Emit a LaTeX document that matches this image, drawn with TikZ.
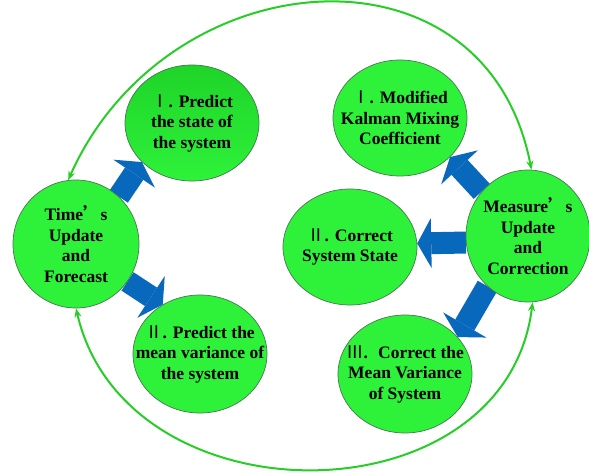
\documentclass[tikz,border=0pt]{standalone}
\usepackage{fontspec}
\setmainfont{Liberation Serif}
\newfontfamily\cjk{Noto Sans CJK SC}
\usetikzlibrary{shapes.geometric,arrows.meta,backgrounds}

\definecolor{cycgreen}{RGB}{40,205,40}
\definecolor{ballgreen}{RGB}{46,242,58}
\definecolor{balltop}{RGB}{30,212,40}
\definecolor{balledge}{RGB}{70,120,80}
\definecolor{stepblue}{RGB}{8,104,188}
\newcommand{\rnum}[1]{{\cjk\mdseries #1}}
\newcommand{\apos}{{\cjk ’}}

\begin{document}
\begin{tikzpicture}[x=1pt, y=1pt,
  ball/.style={ellipse, draw=balledge, line width=0.7pt, fill=#1, inner sep=0pt,
               minimum width=134pt, minimum height=116pt},
  ball/.default=ballgreen,
  txt/.style={align=center, font=\bfseries\fontsize{17.5}{20.5}\selectfont},
  blockarr/.style={line width=22pt, draw=stepblue,
                   -{Triangle[length=14pt,width=50pt,line width=0pt]}},
  cyc/.style={line width=2pt, draw=cycgreen,
              {Stealth[length=9pt,width=7pt]}-{Stealth[length=9pt,width=7pt]}}
]
  \useasboundingbox (0,0) rectangle (589,475);

  \node[ball, minimum width=126pt, minimum height=128pt,
        label={[txt]center:Time\apos s\\Update\\and\\Forecast}] (time) at (76,231) {};
  \node[ball, top color=balltop, bottom color=ballgreen,
        label={[txt]center:\rnum{Ⅰ}. Predict\\the state of\\the system}] (pstate) at (192,352) {};
  \node[ball, minimum height=118pt,
        label={[txt]center:\rnum{Ⅱ}. Predict the\\mean variance of\\the system}] (pvar) at (200,121) {};
  \node[ball, label={[txt]center:\rnum{Ⅰ}. Modified\\Kalman Mixing\\Coefficient}] (kalman) at (400,357) {};
  \node[ball, label={[txt]center:\rnum{Ⅱ}. Correct\\System State}] (cstate) at (350,228) {};
  \node[ball, minimum width=124pt, minimum height=132pt,
        label={[txt]center:Measure\apos s\\Update\\and\\Correction}] (measure) at (528,239) {};
  \node[ball, minimum height=118pt,
        label={[txt]center:\rnum{Ⅲ}.~ Correct the\\Mean Variance\\of System}] (cvar) at (405,101) {};

  % blaue Pfeile hinter den Kreisen
  \begin{scope}[on background layer]
    \draw[blockarr] (time.48) -- (pstate.218);
    \draw[blockarr] (time.-36) -- (pvar.127);
    \draw[blockarr] (measure.136) -- (kalman.-38);
    \draw[blockarr] (measure.186) -- (cstate.3);
    \draw[blockarr] (measure.231) -- (cvar.35);
  \end{scope}

  \draw[cyc] (time.97) .. controls +(66:242) and +(101:242) .. (measure.87);
  \draw[cyc] (time.-90) .. controls +(-77:222) and +(-97:222) .. (measure.-86);
\end{tikzpicture}
\end{document}
